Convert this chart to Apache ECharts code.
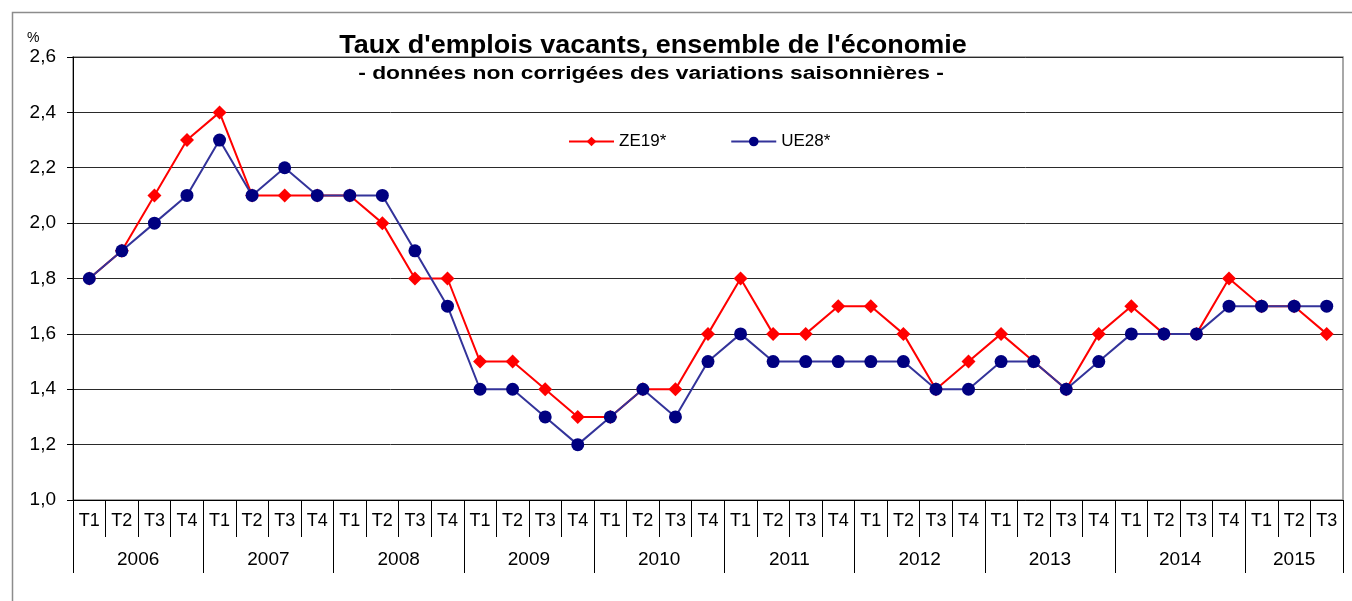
<!DOCTYPE html>
<html>
<head>
<meta charset="utf-8">
<script src="https://cdn.jsdelivr.net/npm/echarts@6/dist/echarts.min.js"></script>
<style>
html,body{margin:0;padding:0;background:#fff;}
#chart{width:1352px;height:601px;}
</style>
</head>
<body>
<div id="chart"></div>
<script>
// ---- data ----
const years = ['2006','2007','2008','2009','2010','2011','2012','2013','2014','2015'];
const quartersPerYear = [4,4,4,4,4,4,4,4,4,3];
const quarterNames = ['T1','T2','T3','T4'];
const ze19 = [1.8,1.9,2.1,2.3, 2.4,2.1,2.1,2.1, 2.1,2.0,1.8,1.8, 1.5,1.5,1.4,1.3, 1.3,1.4,1.4,1.6,
              1.8,1.6,1.6,1.7, 1.7,1.6,1.4,1.5, 1.6,1.5,1.4,1.6, 1.7,1.6,1.6,1.8, 1.7,1.7,1.6];
const ue28 = [1.8,1.9,2.0,2.1, 2.3,2.1,2.2,2.1, 2.1,2.1,1.9,1.7, 1.4,1.4,1.3,1.2, 1.3,1.4,1.3,1.5,
              1.6,1.5,1.5,1.5, 1.5,1.5,1.4,1.4, 1.5,1.5,1.4,1.5, 1.6,1.6,1.6,1.7, 1.7,1.7,1.7];
const yTicks = {min:1.0, max:2.6, step:0.2};
const titleText = "Taux d'emplois vacants, ensemble de l'économie";
const subtitleText = "- données non corrigées des variations saisonnières -";
const seriesNames = ['ZE19*','UE28*'];

// ---- build axes ----
const quarterCats = [];
years.forEach((y,i)=>{ for(let q=0;q<quartersPerYear[i];q++) quarterCats.push(quarterNames[q]+'_'+y); });
const nQ = quarterCats.length;
const halfPts = [], yearLabelAt = {}, yearTickAt = new Set();
let start = 0;
years.forEach((y,i)=>{
  yearTickAt.add(start*2);
  yearLabelAt[start*2 + quartersPerYear[i]] = y;
  start += quartersPerYear[i];
});
yearTickAt.add(start*2);
for(let h=0; h<=nQ*2; h++) halfPts.push('h'+h);

const FONT = "'Liberation Sans', Arial, sans-serif";
const chart = echarts.init(document.getElementById('chart'), null, {renderer:'canvas'});
chart.setOption({
  animation:false,
  backgroundColor:'#fff',
  textStyle:{fontFamily:FONT},
  legend:{
    left:563, top:128, itemWidth:45, itemHeight:12, itemGap:64,
    textStyle:{fontFamily:FONT,fontSize:17,color:'#000'},
    data:seriesNames
  },
  graphic:[
    {type:'rect', shape:{x:12.5,y:12.5,width:1360,height:620}, style:{fill:null,stroke:'#8c8c8c',lineWidth:1.5}, silent:true},
    {type:'text', x:27, y:31, style:{text:'%', font:'14px '+FONT, fill:'#000'}},
    {type:'text', x:653, y:46, scaleX:1.08, style:{text:titleText, font:'bold 25px '+FONT, fill:'#000', align:'center', verticalAlign:'middle'}},
    {type:'text', x:651, y:74, scaleX:1.27, style:{text:subtitleText, font:'bold 18px '+FONT, fill:'#000', align:'center', verticalAlign:'middle'}}
  ],
  grid:{left:73, right:9, top:57, bottom:101, show:true, borderColor:'#8c8c8c', borderWidth:1.5},
  xAxis:[
    {type:'category', data:quarterCats, boundaryGap:true, position:'bottom',
     axisLine:{lineStyle:{color:'#000',width:1}},
     axisTick:{show:true, interval:0, length:37, lineStyle:{color:'#000'}},
     axisLabel:{interval:0, margin:12, fontSize:18, color:'#000', fontFamily:FONT,
       formatter:v=>v.split('_')[0]},
     splitLine:{show:false}},
    {type:'category', data:halfPts, boundaryGap:false, position:'bottom',
     axisLine:{show:false},
     axisTick:{show:true, length:73, interval:(i)=>yearTickAt.has(i), lineStyle:{color:'#000'}},
     axisLabel:{margin:50, fontSize:19, color:'#000', fontFamily:FONT,
       interval:(i)=>yearLabelAt[i]!==undefined,
       formatter:(v,i)=>yearLabelAt[i]||''},
     splitLine:{show:false}}
  ],
  yAxis:{type:'value', min:yTicks.min, max:yTicks.max, interval:yTicks.step,
    axisLine:{show:true, lineStyle:{color:'#000'}},
    axisTick:{show:true, length:6, lineStyle:{color:'#000'}},
    axisLabel:{margin:17, fontSize:19, color:'#000', fontFamily:FONT,
      formatter:v=>v.toFixed(1).replace('.',',')},
    splitLine:{lineStyle:{color:'#2a2a2a', width:1}}
  },
  series:[
    {name:seriesNames[0], type:'line', data:ze19, xAxisIndex:0,
     symbol:'diamond', symbolSize:14,
     lineStyle:{color:'#ff0000', width:2}, itemStyle:{color:'#ff0000'}},
    {name:seriesNames[1], type:'line', data:ue28, xAxisIndex:0,
     symbol:'circle', symbolSize:13,
     lineStyle:{color:'#33339a', width:2}, itemStyle:{color:'#000080'}}
  ]
});
</script>
</body>
</html>
